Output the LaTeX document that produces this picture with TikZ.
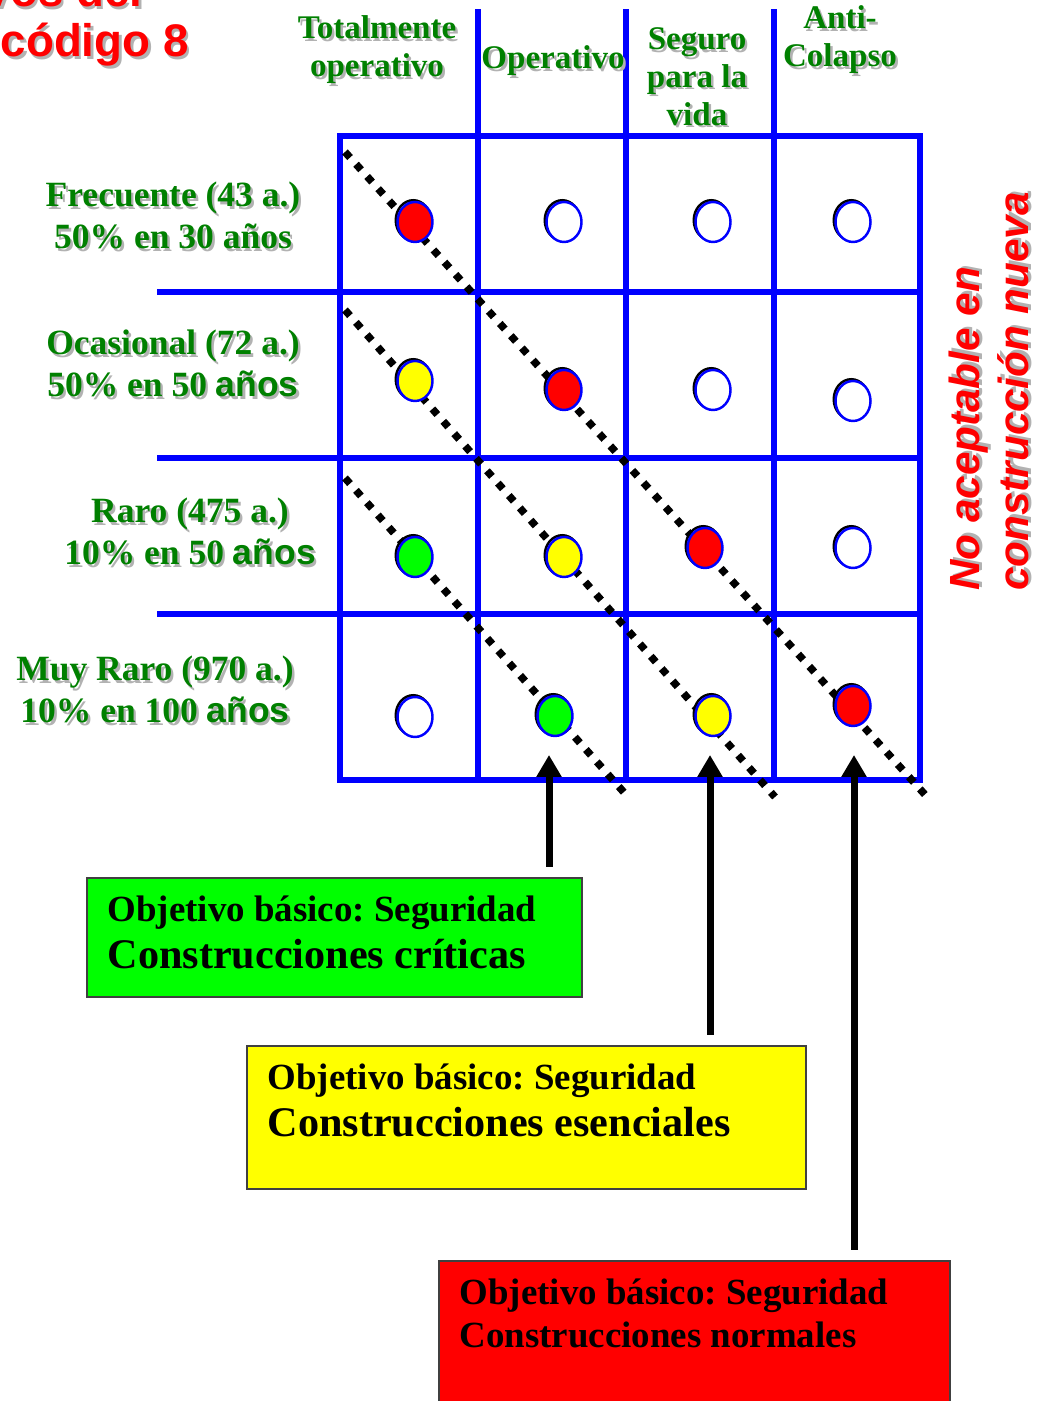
\documentclass[tikz,border=0pt]{standalone}
\usepackage{fontspec}
\setmainfont{Liberation Serif}
\setsansfont{Liberation Sans}
\usepackage{tikz}
\usetikzlibrary{arrows.meta, positioning, shapes.geometric}
\tikzset{>={Triangle[width=0.24cm,length=0.22cm]}}
\definecolor{myblue}{RGB}{0, 0, 255}
\definecolor{mygreen}{RGB}{0, 128, 0}
\definecolor{myred}{RGB}{255, 0, 0}
\definecolor{myyellow}{RGB}{255, 255, 0}
\definecolor{mylime}{RGB}{0, 255, 0}
\newcommand{\shd}[1]{\rlap{\raisebox{-0.7pt}{\hspace{0.7pt}\textcolor{black!30}{#1}}}#1}
\frenchspacing

\begin{document}
\begin{tikzpicture}[
  gridline/.style={myblue, line width=0.055cm},
  ring/.style={ellipse, draw=myblue, line width=0.7pt, minimum width=0.35cm, minimum height=0.40cm, inner sep=0pt,
    preaction={draw=black, line width=0.7pt, transform canvas={shift={(-0.5pt,0.5pt)}}}},
  diagline/.style={line width=0.075cm, dash pattern=on 0.075cm off 0.09cm},
  goalarrow/.style={->, line width=0.07cm, shorten <=0.1cm},
  goalbox/.style={draw=black!75, line width=0.6pt, inner sep=0pt, anchor=north west},
  goaltext/.style={anchor=north west, inner sep=0pt, align=left, font=\bfseries\fontsize{10.5}{13.3}\selectfont},
  colhead/.style={mygreen, align=center, font=\bfseries\fontsize{9.4}{10.8}\selectfont},
  rowhead/.style={mygreen, align=center, font=\bfseries\fontsize{10.1}{11.9}\selectfont},
  titletext/.style={myred, inner sep=0pt, font=\sffamily\bfseries\fontsize{13}{16}\selectfont},
]
\useasboundingbox (0,0) rectangle (10.43,14.01);

% title, cut at the top
\node[titletext, anchor=base east] (title1) at (1.43,13.94) {\shd{Objetivos del}};
\node[titletext, anchor=base west] (title2) at (0.0,13.44) {\shd{código 8}};

% grid
\draw[gridline] (3.40,6.21) rectangle (9.20,12.65);
\foreach \x in {4.78, 6.26, 7.74}
  \draw[gridline] (\x,6.21) -- (\x,13.92);
\foreach \y in {11.09, 9.43, 7.87}
  \draw[gridline] (1.57,\y) -- (9.20,\y);

% column and row labels
\node[colhead] (tot) at (3.77,13.50) {\shd{Totalmente}\\\shd{operativo}};
\node[colhead] (oper) at (5.53,13.39) {\shd{Operativo}};
\node[colhead] (segu) at (6.97,13.23) {\shd{Seguro}\\\shd{para la}\\\shd{vida}};
\node[colhead] (anti) at (8.40,13.60) {\shd{Anti-}\\\shd{Colapso}};

\node[rowhead] (frec) at (1.73,11.84) {\shd{Frecuente (43 a.)}\\\shd{50\% en 30 años}};
\node[rowhead] (ocas) at (1.73,10.36) {\shd{Ocasional (72 a.)}\\\shd{50\% en 50 \textsf{años}}};
\node[rowhead] (raro) at (1.90,8.68) {\shd{Raro (475 a.)}\\\shd{10\% en 50 \textsf{años}}};
\node[rowhead] (muyr) at (1.55,7.10) {\shd{Muy Raro (970 a.)}\\\shd{10\% en 100 \textsf{años}}};

\node[rotate=90, anchor=west, myred, align=left, font=\sffamily\bfseries\itshape\fontsize{12}{13.9}\selectfont] (noacc) at (9.905,7.98)
  {\shd{No aceptable en}\\\shd{construcción nueva}};

% dotted diagonals
\draw[diagline] (3.45,12.49) -- (9.28,6.03);
\draw[diagline] (3.45,10.91) -- (7.75,6.04);
\draw[diagline] (3.45,9.23) -- (6.28,6.04);

% performance dots
\foreach \x/\y/\c [count=\i] in {4.15/11.79/myred, 5.64/11.79/white, 7.13/11.79/white, 8.53/11.79/white,
    4.15/10.20/myyellow, 5.64/10.11/myred, 7.13/10.11/white, 8.53/10.00/white,
    4.15/8.44/mylime, 5.64/8.44/myyellow, 7.05/8.53/myred, 8.53/8.53/white,
    4.15/6.84/white, 5.55/6.85/mylime, 7.13/6.85/myyellow, 8.53/6.95/myred}
  \node[ring, fill=\c] (d\i) at (\x,\y) {};

% objective boxes
\node[goalbox, fill=mylime, minimum width=4.95cm, minimum height=1.19cm] (critbox) at (0.86,5.24) {};
\node[goaltext] (crittxt) at ([shift={(0.21,-0.18)}]critbox.north west)
  {Objetivo básico: Seguridad\\{\fontsize{12}{14}\selectfont Construcciones críticas}};
\node[goalbox, fill=myyellow, minimum width=5.59cm, minimum height=1.43cm] (essbox) at (2.46,3.56) {};
\node[goaltext] (esstxt) at ([shift={(0.21,-0.18)}]essbox.north west)
  {Objetivo básico: Seguridad\\{\fontsize{12}{14}\selectfont Construcciones esenciales}};
\node[goalbox, fill=myred, minimum width=5.11cm, minimum height=1.70cm] (normbox) at (4.38,1.41) {};
\node[goaltext, font=\bfseries\fontsize{10.5}{12.2}\selectfont] (normtxt) at ([shift={(0.21,-0.18)}]normbox.north west)
  {Objetivo básico: Seguridad\\Construcciones normales};

% arrows
\coordinate (t1) at (5.49,6.46);
\coordinate (t2) at (7.10,6.46);
\coordinate (t3) at (8.54,6.46);
\draw[goalarrow] (critbox.north -| t1) -- (t1);
\draw[goalarrow] (essbox.north -| t2) -- (t2);
\draw[goalarrow] (normbox.north -| t3) -- (t3);

\end{tikzpicture}
\end{document}
